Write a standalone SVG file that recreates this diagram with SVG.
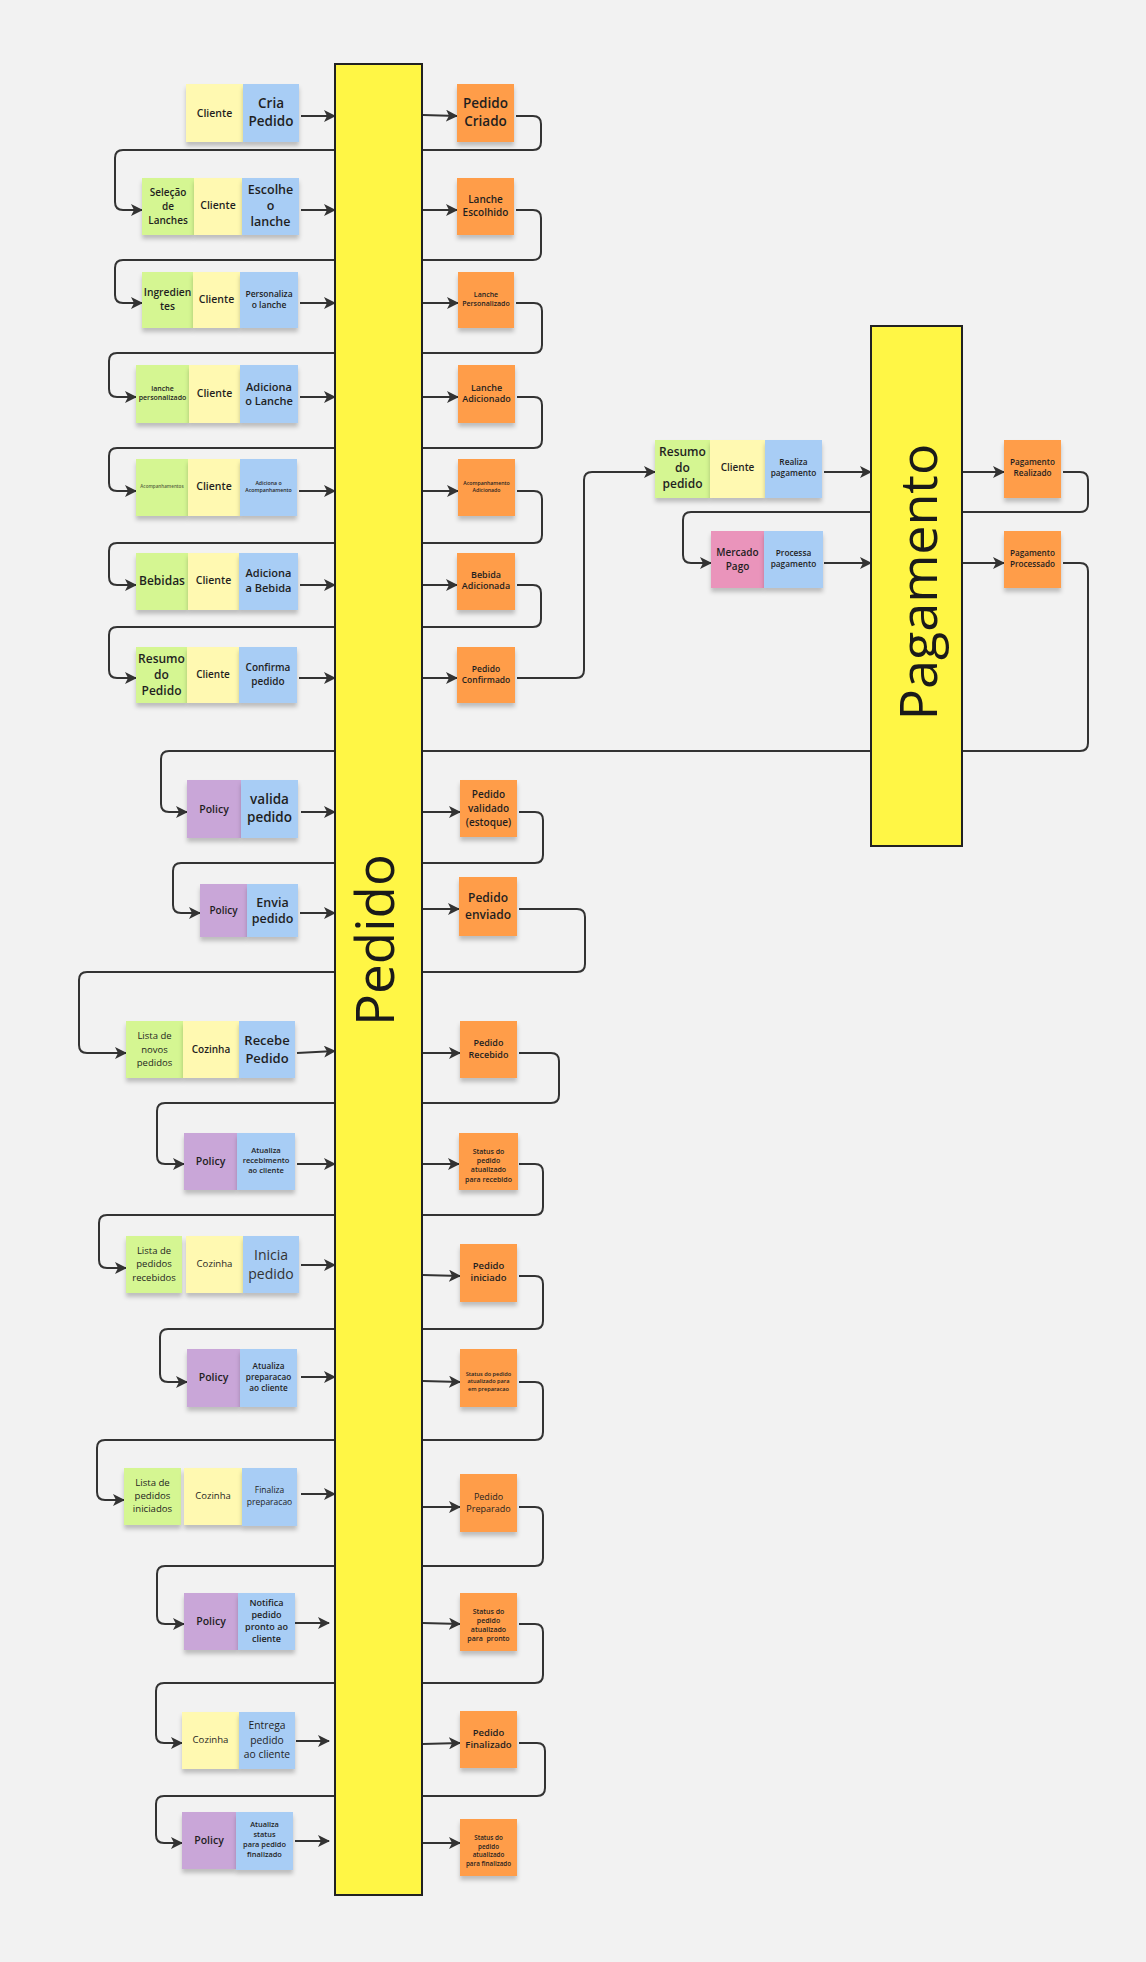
<svg xmlns="http://www.w3.org/2000/svg" width="1146" height="1962" viewBox="0 0 1146 1962">
<style>
.bg{fill:#f2f2f2}
.s{filter:url(#sh)}
.y{fill:#fff9b1}.b{fill:#a8cdf5}.g{fill:#d5f692}.o{fill:#ff9d48}.p{fill:#c9a6d8}.k{fill:#ea94bb}
.bar{fill:#fff645;stroke:#222;stroke-width:2}
.c{fill:none;stroke:#333;stroke-width:2;marker-end:url(#ah)}
text{font-family:"Open Sans","Noto Sans","Liberation Sans",sans-serif;fill:#1f1f1f;text-anchor:middle}
.w6{font-weight:600}.w7{font-weight:600}.w4{font-weight:400}
.big{font-size:53px;font-weight:400;fill:#1a1a1a}
</style>
<defs>
<filter id="sh" x="-20%" y="-20%" width="140%" height="150%"><feDropShadow dx="0" dy="4" stdDeviation="2" flood-color="#000" flood-opacity="0.22"/></filter>
<marker id="ah" viewBox="0 0 12 12" refX="11" refY="6" markerWidth="12" markerHeight="12" markerUnits="userSpaceOnUse" orient="auto"><path d="M0,0 L12,6 L0,12 L3,6 z" fill="#333"/></marker>
</defs>
<rect class="bg" x="0" y="0" width="1146" height="1962"/>
<g id="connectors">
<path class="c" d="M301,116 H335"/>
<path class="c" d="M301,210 H335"/>
<path class="c" d="M300,303 H335"/>
<path class="c" d="M300,397 H335"/>
<path class="c" d="M299,491 H335"/>
<path class="c" d="M300,585 H335"/>
<path class="c" d="M299,678 H335"/>
<path class="c" d="M301,812 H335"/>
<path class="c" d="M300,913 H335"/>
<path class="c" d="M297,1053 L335,1051"/>
<path class="c" d="M297,1164 H335"/>
<path class="c" d="M301,1265 H335"/>
<path class="c" d="M301,1377 H335"/>
<path class="c" d="M301,1494 H335"/>
<path class="c" d="M295,1623 H329"/>
<path class="c" d="M296,1741 H329"/>
<path class="c" d="M295,1841 H329"/>
<path class="c" d="M423,115 L457,116"/>
<path class="c" d="M423,210 H457"/>
<path class="c" d="M423,303 H458"/>
<path class="c" d="M423,397 H458"/>
<path class="c" d="M423,491 H458"/>
<path class="c" d="M423,585 H457"/>
<path class="c" d="M423,678 H457"/>
<path class="c" d="M423,812 H460"/>
<path class="c" d="M423,909 H459"/>
<path class="c" d="M423,1053 H460"/>
<path class="c" d="M423,1164 H459"/>
<path class="c" d="M423,1275 L460,1276"/>
<path class="c" d="M423,1381 L460,1382"/>
<path class="c" d="M423,1507 H460"/>
<path class="c" d="M423,1623 L460,1624"/>
<path class="c" d="M423,1744 L460,1743"/>
<path class="c" d="M423,1843 H460"/>
<path class="c" d="M516,116 H533 Q541,116 541,124 V142 Q541,150 533,150 H123 Q115,150 115,158 V202 Q115,210 123,210 H142"/>
<path class="c" d="M516,210 H533 Q541,210 541,218 V252 Q541,260 533,260 H123 Q115,260 115,268 V295 Q115,303 123,303 H142"/>
<path class="c" d="M516,303 H534 Q542,303 542,311 V345 Q542,353 534,353 H117 Q109,353 109,361 V389 Q109,397 117,397 H136"/>
<path class="c" d="M517,397 H534 Q542,397 542,405 V440 Q542,448 534,448 H117 Q109,448 109,456 V483 Q109,491 117,491 H136"/>
<path class="c" d="M517,491 H534 Q542,491 542,499 V535 Q542,543 534,543 H117 Q109,543 109,551 V577 Q109,585 117,585 H136"/>
<path class="c" d="M517,585 H533 Q541,585 541,593 V619 Q541,627 533,627 H117 Q109,627 109,635 V670 Q109,678 117,678 H136"/>
<path class="c" d="M517,678 H576 Q584,678 584,670 V480 Q584,472 592,472 H655"/>
<path class="c" d="M824,472 H871"/>
<path class="c" d="M962,472 H1004"/>
<path class="c" d="M824,563 H871"/>
<path class="c" d="M962,563 H1004"/>
<path class="c" d="M1063,472 H1080 Q1088,472 1088,480 V504 Q1088,512 1080,512 H691 Q683,512 683,520 V555 Q683,563 691,563 H711"/>
<path class="c" d="M1063,563 H1080 Q1088,563 1088,571 V743 Q1088,751 1080,751 H169 Q161,751 161,759 V804 Q161,812 169,812 H187"/>
<path class="c" d="M519,812 H535 Q543,812 543,820 V855 Q543,863 535,863 H181 Q173,863 173,871 V905 Q173,913 181,913 H200"/>
<path class="c" d="M519,909 H577 Q585,909 585,917 V964 Q585,972 577,972 H87 Q79,972 79,980 V1045 Q79,1053 87,1053 H126"/>
<path class="c" d="M519,1053 H551 Q559,1053 559,1061 V1095 Q559,1103 551,1103 H165 Q157,1103 157,1111 V1156 Q157,1164 165,1164 H184"/>
<path class="c" d="M519,1164 H535 Q543,1164 543,1172 V1207 Q543,1215 535,1215 H107 Q99,1215 99,1223 V1260 Q99,1268 107,1268 H126"/>
<path class="c" d="M519,1276 H535 Q543,1276 543,1284 V1321 Q543,1329 535,1329 H168 Q160,1329 160,1337 V1374 Q160,1382 168,1382 H187"/>
<path class="c" d="M519,1382 H535 Q543,1382 543,1390 V1432 Q543,1440 535,1440 H105 Q97,1440 97,1448 V1492 Q97,1500 105,1500 H124"/>
<path class="c" d="M519,1507 H535 Q543,1507 543,1515 V1558 Q543,1566 535,1566 H165 Q157,1566 157,1574 V1616 Q157,1624 165,1624 H184"/>
<path class="c" d="M519,1624 H535 Q543,1624 543,1632 V1675 Q543,1683 535,1683 H164 Q156,1683 156,1691 V1735 Q156,1743 164,1743 H182"/>
<path class="c" d="M519,1743 H537 Q545,1743 545,1751 V1788 Q545,1796 537,1796 H164 Q156,1796 156,1804 V1835 Q156,1843 164,1843 H182"/>
</g>
<g id="bar-pedido"><rect class="bar" x="335" y="64" width="87" height="1831"/><text class="big" transform="translate(394,940) rotate(-90)" x="0" y="0">Pedido</text></g>
<g id="bar-pagamento"><rect class="bar" x="871" y="326" width="91" height="520"/><text class="big" style="font-size:52px" transform="translate(937,582) rotate(-90)" x="0" y="0">Pagamento</text></g>

<g id="r1-cliente"><rect class="s y" x="186" y="84" width="57" height="58"/><text class="w6" font-size="10.5" x="214.5" y="116.7">Cliente</text></g>
<g id="r1-cria-pedido"><rect class="s b" x="243" y="84" width="56" height="58"/><text class="w7" font-size="13.5"><tspan x="271" y="108.4">Cria</tspan><tspan x="271" y="126.4">Pedido</tspan></text></g>
<g id="r1-pedido-criado"><rect class="s o" x="457" y="84" width="57" height="58"/><text class="w7" font-size="13.5"><tspan x="485.5" y="108.4">Pedido</tspan><tspan x="485.5" y="126.4">Criado</tspan></text></g>

<g id="r2-selecao"><rect class="s g" x="142" y="178" width="52" height="57"/><text class="w7" font-size="10"><tspan x="168" y="196.2">Seleção</tspan><tspan x="168" y="209.9">de</tspan><tspan x="168" y="223.6">Lanches</tspan></text></g>
<g id="r2-cliente"><rect class="s y" x="194" y="178" width="48" height="57"/><text class="w6" font-size="10.5" x="218" y="209.4">Cliente</text></g>
<g id="r2-escolhe"><rect class="s b" x="242" y="178" width="57" height="57"/><text class="w7" font-size="12.5"><tspan x="270.5" y="194.4">Escolhe</tspan><tspan x="270.5" y="210.4">o</tspan><tspan x="270.5" y="226.4">lanche</tspan></text></g>
<g id="r2-lanche-escolhido"><rect class="s o" x="457" y="178" width="57" height="57"/><text class="w7" font-size="10"><tspan x="485.5" y="202.8">Lanche</tspan><tspan x="485.5" y="216.2">Escolhido</tspan></text></g>

<g id="r3-ingredientes"><rect class="s g" x="142" y="272" width="51" height="56"/><text class="w7" font-size="10.3"><tspan x="167.5" y="296.4">Ingredien</tspan><tspan x="167.5" y="310.4">tes</tspan></text></g>
<g id="r3-cliente"><rect class="s y" x="193" y="272" width="47" height="56"/><text class="w6" font-size="10.5" x="216.5" y="303">Cliente</text></g>
<g id="r3-personaliza"><rect class="s b" x="240" y="272" width="58" height="56"/><text class="w6" font-size="8.5"><tspan x="269" y="297">Personaliza</tspan><tspan x="269" y="308">o lanche</tspan></text></g>
<g id="r3-lanche-personalizado"><rect class="s o" x="458" y="272" width="56" height="56"/><text class="w6" font-size="7"><tspan x="486" y="296.8">Lanche</tspan><tspan x="486" y="305.8">Personalizado</tspan></text></g>

<g id="r4-lanche-personalizado"><rect class="s g" x="136" y="365" width="53" height="58"/><text class="w6" font-size="7"><tspan x="162.5" y="390.8">lanche</tspan><tspan x="162.5" y="399.8">personalizado</tspan></text></g>
<g id="r4-cliente"><rect class="s y" x="189" y="365" width="51" height="58"/><text class="w6" font-size="10.5" x="214.5" y="397">Cliente</text></g>
<g id="r4-adiciona-lanche"><rect class="s b" x="240" y="365" width="58" height="58"/><text class="w7" font-size="11"><tspan x="269" y="390.5">Adiciona</tspan><tspan x="269" y="404.5">o Lanche</tspan></text></g>
<g id="r4-lanche-adicionado"><rect class="s o" x="458" y="365" width="57" height="58"/><text class="w7" font-size="9"><tspan x="486.5" y="391.2">Lanche</tspan><tspan x="486.5" y="402.2">Adicionado</tspan></text></g>

<g id="r5-acompanhamentos"><rect class="s g" x="136" y="459" width="52" height="57"/><text class="w6" font-size="4.6" style="fill:#55653f" x="162" y="488.3">Acompanhamentos</text></g>
<g id="r5-cliente"><rect class="s y" x="188" y="459" width="52" height="57"/><text class="w6" font-size="10.5" x="214" y="490.4">Cliente</text></g>
<g id="r5-adiciona-acomp"><rect class="s b" x="240" y="459" width="57" height="57"/><text class="w6" font-size="5.2"><tspan x="268.5" y="484.8">Adiciona o</tspan><tspan x="268.5" y="491.8">Acompanhamento</tspan></text></g>
<g id="r5-acomp-adicionado"><rect class="s o" x="458" y="459" width="57" height="57"/><text class="w6" font-size="5.2"><tspan x="486.5" y="484.8">Acompanhamento</tspan><tspan x="486.5" y="491.8">Adicionado</tspan></text></g>

<g id="r6-bebidas"><rect class="s g" x="136" y="553" width="52" height="57"/><text class="w7" font-size="12" x="162" y="584.9">Bebidas</text></g>
<g id="r6-cliente"><rect class="s y" x="188" y="553" width="51" height="57"/><text class="w6" font-size="10.5" x="213.5" y="583.7">Cliente</text></g>
<g id="r6-adiciona-bebida"><rect class="s b" x="239" y="553" width="59" height="57"/><text class="w7" font-size="11"><tspan x="268.5" y="577.2">Adiciona</tspan><tspan x="268.5" y="592.2">a Bebida</tspan></text></g>
<g id="r6-bebida-adicionada"><rect class="s o" x="457" y="553" width="58" height="57"/><text class="w7" font-size="9"><tspan x="486" y="578.2">Bebida</tspan><tspan x="486" y="589.2">Adicionada</tspan></text></g>

<g id="r7-resumo"><rect class="s g" x="136" y="647" width="51" height="56"/><text class="w7" font-size="12"><tspan x="161.5" y="663.2">Resumo</tspan><tspan x="161.5" y="679">do</tspan><tspan x="161.5" y="695">Pedido</tspan></text></g>
<g id="r7-cliente"><rect class="s y" x="187" y="647" width="52" height="56"/><text class="w6" font-size="10" x="213" y="678.2">Cliente</text></g>
<g id="r7-confirma"><rect class="s b" x="239" y="647" width="58" height="56"/><text class="w7" font-size="10"><tspan x="268" y="671.2">Confirma</tspan><tspan x="268" y="685.2">pedido</tspan></text></g>
<g id="r7-pedido-confirmado"><rect class="s o" x="457" y="647" width="58" height="56"/><text class="w6" font-size="8.5"><tspan x="486" y="672">Pedido</tspan><tspan x="486" y="683.3">Confirmado</tspan></text></g>

<g id="p1-resumo"><rect class="s g" x="655" y="440" width="55" height="58"/><text class="w7" font-size="12"><tspan x="682.5" y="455.9">Resumo</tspan><tspan x="682.5" y="471.9">do</tspan><tspan x="682.5" y="487.9">pedido</tspan></text></g>
<g id="p1-cliente"><rect class="s y" x="710" y="440" width="55" height="58"/><text class="w6" font-size="10" x="737.5" y="471.2">Cliente</text></g>
<g id="p1-realiza"><rect class="s b" x="765" y="440" width="57" height="58"/><text class="w7" font-size="8.3"><tspan x="793.5" y="464.9">Realiza</tspan><tspan x="793.5" y="476.2">pagamento</tspan></text></g>
<g id="p1-pagamento-realizado"><rect class="s o" x="1004" y="440" width="57" height="58"/><text class="w7" font-size="8.2"><tspan x="1032.5" y="464.9">Pagamento</tspan><tspan x="1032.5" y="475.9">Realizado</tspan></text></g>
<g id="p2-mercado-pago"><rect class="s k" x="711" y="531" width="53" height="57"/><text class="w7" font-size="10"><tspan x="737.5" y="556.2">Mercado</tspan><tspan x="737.5" y="569.5">Pago</tspan></text></g>
<g id="p2-processa"><rect class="s b" x="764" y="531" width="59" height="57"/><text class="w7" font-size="8.3"><tspan x="793.5" y="556.2">Processa</tspan><tspan x="793.5" y="567.2">pagamento</tspan></text></g>
<g id="p2-pagamento-processado"><rect class="s o" x="1004" y="531" width="57" height="57"/><text class="w7" font-size="8.2"><tspan x="1032.5" y="556.2">Pagamento</tspan><tspan x="1032.5" y="566.9">Processado</tspan></text></g>

<g id="r8-policy"><rect class="s p" x="187" y="780" width="54" height="58"/><text class="w7" font-size="10.5" x="214" y="812.7">Policy</text></g>
<g id="r8-valida"><rect class="s b" x="241" y="780" width="57" height="58"/><text class="w7" font-size="13.5"><tspan x="269.5" y="804">valida</tspan><tspan x="269.5" y="822">pedido</tspan></text></g>
<g id="r8-pedido-validado"><rect class="s o" x="460" y="780" width="57" height="57"/><text class="w6" font-size="10"><tspan x="488.5" y="797.8">Pedido</tspan><tspan x="488.5" y="811.8">validado</tspan><tspan x="488.5" y="825.8">(estoque)</tspan></text></g>

<g id="r9-policy"><rect class="s p" x="200" y="884" width="47" height="53"/><text class="w7" font-size="10" x="223.5" y="913.5">Policy</text></g>
<g id="r9-envia"><rect class="s b" x="247" y="884" width="51" height="53"/><text class="w7" font-size="12.5"><tspan x="272.5" y="906.7">Envia</tspan><tspan x="272.5" y="923.2">pedido</tspan></text></g>
<g id="r9-pedido-enviado"><rect class="s o" x="459" y="877" width="58" height="59"/><text class="w7" font-size="12"><tspan x="488" y="902">Pedido</tspan><tspan x="488" y="918.9">enviado</tspan></text></g>

<g id="r10-lista"><rect class="s g" x="126" y="1021" width="57" height="57"/><text class="w4" font-size="9.5"><tspan x="154.5" y="1039">Lista de</tspan><tspan x="154.5" y="1053">novos</tspan><tspan x="154.5" y="1066">pedidos</tspan></text></g>
<g id="r10-cozinha"><rect class="s y" x="183" y="1021" width="56" height="57"/><text class="w7" font-size="10" x="211" y="1053.2">Cozinha</text></g>
<g id="r10-recebe"><rect class="s b" x="239" y="1021" width="56" height="57"/><text class="w7" font-size="13"><tspan x="267" y="1044.9">Recebe</tspan><tspan x="267" y="1062.9">Pedido</tspan></text></g>
<g id="r10-pedido-recebido"><rect class="s o" x="460" y="1021" width="57" height="57"/><text class="w7" font-size="9"><tspan x="488.5" y="1045.8">Pedido</tspan><tspan x="488.5" y="1057.8">Recebido</tspan></text></g>

<g id="r11-policy"><rect class="s p" x="184" y="1133" width="53" height="57"/><text class="w7" font-size="10.5" x="210.5" y="1165.4">Policy</text></g>
<g id="r11-atualiza"><rect class="s b" x="237" y="1133" width="58" height="57"/><text class="w7" font-size="7.6"><tspan x="266" y="1153">Atualiza</tspan><tspan x="266" y="1163">recebimento</tspan><tspan x="266" y="1173">ao cliente</tspan></text></g>
<g id="r11-status-recebido"><rect class="s o" x="459" y="1133" width="59" height="57"/><text class="w7" font-size="7"><tspan x="488.5" y="1153.8">Status do</tspan><tspan x="488.5" y="1163.1">pedido</tspan><tspan x="488.5" y="1172.4">atualizado</tspan><tspan x="488.5" y="1181.7">para recebido</tspan></text></g>

<g id="r12-lista"><rect class="s g" x="126" y="1236" width="56" height="57"/><text class="w4" font-size="9.5"><tspan x="154" y="1253.6">Lista de</tspan><tspan x="154" y="1267">pedidos</tspan><tspan x="154" y="1281">recebidos</tspan></text></g>
<g id="r12-cozinha"><rect class="s y" x="186" y="1236" width="57" height="57"/><text class="w4" font-size="9.6" x="214.5" y="1267.1">Cozinha</text></g>
<g id="r12-inicia"><rect class="s b" x="243" y="1236" width="56" height="57"/><text class="w4" font-size="14" style="fill:#333"><tspan x="271" y="1259.9">Inicia</tspan><tspan x="271" y="1278.9">pedido</tspan></text></g>
<g id="r12-pedido-iniciado"><rect class="s o" x="460" y="1244" width="57" height="58"/><text class="w7" font-size="9.5"><tspan x="488.5" y="1269">Pedido</tspan><tspan x="488.5" y="1281">iniciado</tspan></text></g>

<g id="r13-policy"><rect class="s p" x="187" y="1349" width="53" height="58"/><text class="w7" font-size="10.5" x="213.5" y="1381.4">Policy</text></g>
<g id="r13-atualiza"><rect class="s b" x="240" y="1349" width="57" height="58"/><text class="w7" font-size="8.2"><tspan x="268.5" y="1368.9">Atualiza</tspan><tspan x="268.5" y="1380.2">preparacao</tspan><tspan x="268.5" y="1391.2">ao cliente</tspan></text></g>
<g id="r13-status-preparacao"><rect class="s o" x="460" y="1349" width="57" height="58"/><text class="w7" font-size="5.6"><tspan x="488.5" y="1376">Status do pedido</tspan><tspan x="488.5" y="1383.2">atualizado para</tspan><tspan x="488.5" y="1391">em preparacao</tspan></text></g>

<g id="r14-lista"><rect class="s g" x="124" y="1468" width="57" height="57"/><text class="w4" font-size="9.6"><tspan x="152.5" y="1486">Lista de</tspan><tspan x="152.5" y="1499">pedidos</tspan><tspan x="152.5" y="1512">iniciados</tspan></text></g>
<g id="r14-cozinha"><rect class="s y" x="184" y="1468" width="58" height="57"/><text class="w4" font-size="9.5" x="213" y="1499">Cozinha</text></g>
<g id="r14-finaliza"><rect class="s b" x="242" y="1468" width="55" height="58"/><text class="w4" font-size="8.5"><tspan x="269.5" y="1492.7">Finaliza</tspan><tspan x="269.5" y="1504.7">preparacao</tspan></text></g>
<g id="r14-pedido-preparado"><rect class="s o" x="460" y="1474" width="57" height="58"/><text class="w4" font-size="9"><tspan x="488.5" y="1499.8">Pedido</tspan><tspan x="488.5" y="1511.8">Preparado</tspan></text></g>

<g id="r15-policy"><rect class="s p" x="184" y="1593" width="54" height="57"/><text class="w7" font-size="10.5" x="211" y="1625.4">Policy</text></g>
<g id="r15-notifica"><rect class="s b" x="238" y="1593" width="57" height="57"/><text class="w6" font-size="9"><tspan x="266.5" y="1605.9">Notifica</tspan><tspan x="266.5" y="1617.9">pedido</tspan><tspan x="266.5" y="1629.9">pronto ao</tspan><tspan x="266.5" y="1641.9">cliente</tspan></text></g>
<g id="r15-status-pronto"><rect class="s o" x="460" y="1593" width="57" height="58"/><text class="w7" font-size="7" xml:space="preserve"><tspan x="488.5" y="1613.8">Status do</tspan><tspan x="488.5" y="1622.8">pedido</tspan><tspan x="488.5" y="1631.8">atualizado</tspan><tspan x="488.5" y="1640.8">para  pronto</tspan></text></g>

<g id="r16-cozinha"><rect class="s y" x="182" y="1712" width="57" height="57"/><text class="w4" font-size="9.6" x="210.5" y="1742.7">Cozinha</text></g>
<g id="r16-entrega"><rect class="s b" x="239" y="1712" width="56" height="57"/><text class="w4" font-size="10.3"><tspan x="267" y="1729.3">Entrega</tspan><tspan x="267" y="1743.8">pedido</tspan><tspan x="267" y="1758.3">ao cliente</tspan></text></g>
<g id="r16-pedido-finalizado"><rect class="s o" x="460" y="1711" width="57" height="57"/><text class="w6" font-size="9.5"><tspan x="488.5" y="1736">Pedido</tspan><tspan x="488.5" y="1747.6">Finalizado</tspan></text></g>

<g id="r17-policy"><rect class="s p" x="182" y="1812" width="54" height="57"/><text class="w7" font-size="10.5" x="209" y="1844.4">Policy</text></g>
<g id="r17-atualiza-status"><rect class="s b" x="236" y="1812" width="57" height="58"/><text class="w7" font-size="7.4"><tspan x="264.5" y="1826.9">Atualiza</tspan><tspan x="264.5" y="1836.9">status</tspan><tspan x="264.5" y="1846.9">para pedido</tspan><tspan x="264.5" y="1856.9">finalizado</tspan></text></g>
<g id="r17-status-finalizado"><rect class="s o" x="460" y="1819" width="57" height="57"/><text class="w7" font-size="6.3"><tspan x="488.5" y="1839.9">Status do</tspan><tspan x="488.5" y="1848.6">pedido</tspan><tspan x="488.5" y="1857.3">atualizado</tspan><tspan x="488.5" y="1866">para finalizado</tspan></text></g>
</svg>
